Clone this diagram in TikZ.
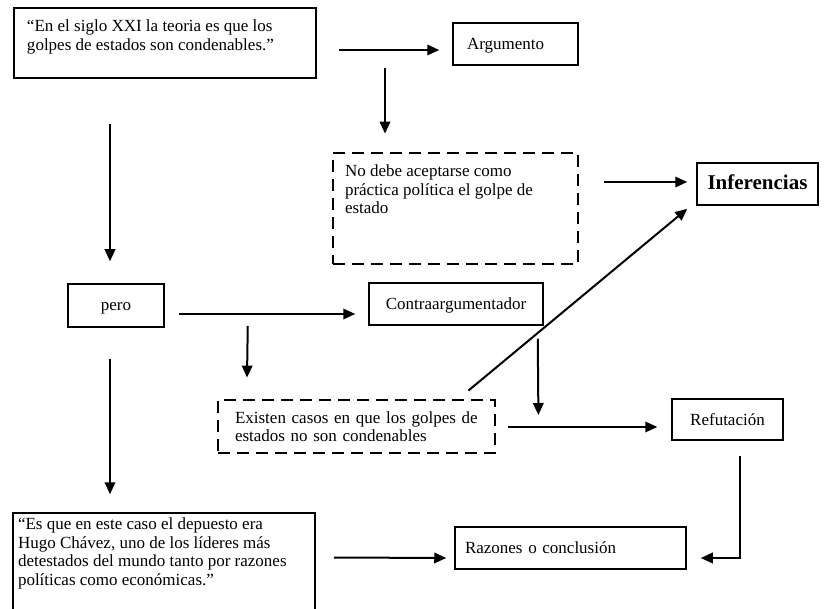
\documentclass[tikz,border=0pt]{standalone}
\usepackage{fontspec}
\setmainfont{Liberation Serif}
\usetikzlibrary{arrows.meta}

\begin{document}
\begin{tikzpicture}[x=1pt, y=1pt,
    font=\fontsize{17}{18.5}\selectfont,
    caja/.style={draw, line width=1.5pt, inner sep=0pt, minimum height=42pt},
    linea/.style={text height=13pt, text depth=2pt},
    punteada/.style={draw, line width=2.8pt, dash pattern=on 12pt off 7pt},
    flecha/.style={line width=2pt, -{Triangle[length=12pt,width=10.5pt]}}]

  % Page size taken from the original figure
  \useasboundingbox (0,0) rectangle (829,608);
  \clip (0,0) rectangle (829,608);

  % Top row: the thesis and the argument
  \node[caja, inner xsep=13pt, inner ysep=12pt] (teoria) at (165,565)
    {\parbox[c][46pt][t]{276pt}{“En el siglo XXI la teoria es que los\\golpes de estados son condenables.”}};
  \node[caja, linea, minimum width=125pt, text width=97pt, align=left] (argumento) at (515.5,564) {Argumento};

  % Dashed box under Argumento
  \node[punteada, inner xsep=12pt, inner ysep=12pt] (norma) at (455.5,399.5)
    {\parbox[c][87pt][t]{221pt}{No debe aceptarse como\\práctica política el golpe de\\estado}};
  \node[caja, linea, minimum width=121pt, font=\fontsize{21}{24}\selectfont\bfseries] (inferencias) at (757.5,424) {Inferencias};

  % Middle row
  \node[caja, linea, minimum width=96pt, minimum height=43pt] (pero) at (116,302.5) {pero};
  \node[caja, linea, minimum width=174pt] (contra) at (456,304) {Contraargumentador};
  \node[punteada, inner sep=0pt, minimum width=277pt, minimum height=53pt, text width=243pt, align=left] (casos) at (356.5,181.5)
    {Existen casos en que los golpes de\\estados no son condenables};
  \node[caja, linea, minimum width=111pt, minimum height=41pt] (refutacion) at (727.5,188.5) {Refutación};

  % Bottom row (the quote box runs off the page)
  \node[caja, inner xsep=5pt, inner ysep=5pt] (chavez) at (164,45.5)
    {\parbox[c][89pt][t]{292pt}{“Es que en este caso el depuesto era\\Hugo Chávez, uno de los líderes más\\detestados del mundo tanto por razones\\políticas como económicas.”}};
  \node[caja, linea, minimum width=231pt, text width=211pt, align=left] (razones) at (570.5,60) {Razones o conclusión};

  % Arrows
  \draw[flecha] ([xshift=22pt,yshift=-7pt]teoria.east) -- ([xshift=-13pt,yshift=-6pt]argumento.west);
  \draw[flecha] ([xshift=-130.5pt,yshift=-2pt]argumento.south) -- ([xshift=-70.5pt,yshift=18pt]norma.north);
  \draw[flecha] ([xshift=25pt,yshift=26.5pt]norma.east) -- ([xshift=-9pt,yshift=2pt]inferencias.west);
  \draw[flecha] ([xshift=-55pt,yshift=-45pt]teoria.south) -- ([xshift=-6pt,yshift=22pt]pero.north);
  \draw[flecha] ([xshift=14pt,yshift=-8.5pt]pero.east) -- ([xshift=-13pt,yshift=-10pt]contra.west);
  \draw[flecha] ([xshift=83pt,yshift=-20.5pt]pero.east) -- ([xshift=-109.5pt,yshift=21pt]casos.north);
  \draw[flecha] ([xshift=-6pt,yshift=-31pt]pero.south) -- ([xshift=-54pt,yshift=18pt]chavez.north);
  \draw[flecha] ([xshift=-6pt,yshift=-13pt]contra.south east) -- ([xshift=42pt,yshift=11.5pt]casos.east);
  \draw[flecha] ([xshift=12pt,yshift=-0.5pt]casos.east) -- ([xshift=-14pt,yshift=-7.5pt]refutacion.west);
  \draw[flecha] ([xshift=-28pt,yshift=8pt]casos.north east) -- ([xshift=-9pt,yshift=-3pt]inferencias.south west);
  \draw[flecha] ([xshift=12.5pt,yshift=-15pt]refutacion.south) |- ([xshift=14pt,yshift=-10pt]razones.east);
  \draw[flecha] ([xshift=18pt,yshift=5pt]chavez.east) -- ([xshift=-8pt,yshift=-10pt]razones.west);

\end{tikzpicture}
\end{document}
